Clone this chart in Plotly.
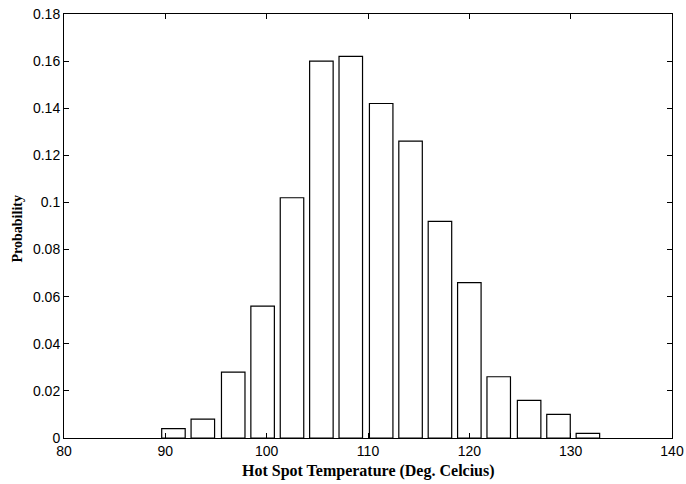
import plotly.graph_objects as go

bin_centers = [90.8, 93.7, 96.7, 99.6, 102.5, 105.4, 108.3, 111.3, 114.2, 117.1, 120.0, 122.9, 125.9, 128.8, 131.7]
probabilities = [0.004, 0.008, 0.028, 0.056, 0.102, 0.160, 0.162, 0.142, 0.126, 0.092, 0.066, 0.026, 0.016, 0.010, 0.002]
x_ticks = [80, 90, 100, 110, 120, 130, 140]
y_ticks = [0, 0.02, 0.04, 0.06, 0.08, 0.1, 0.12, 0.14, 0.16, 0.18]
y_tick_labels = ["0", "0.02", "0.04", "0.06", "0.08", "0.1", "0.12", "0.14", "0.16", "0.18"]
x_title = "Hot Spot Temperature (Deg. Celcius)"
y_title = "Probability"

bar_width = 0.8 * (bin_centers[1] - bin_centers[0])

fig = go.Figure(go.Bar(
    x=bin_centers, y=probabilities, width=bar_width,
    marker=dict(color="white", line=dict(color="black", width=1.2)),
    hoverinfo="skip",
))

axis_common = dict(
    showgrid=False, zeroline=False, showline=True, linecolor="black", linewidth=1,
    mirror="ticks", ticks="inside", ticklen=5, tickcolor="black", automargin=False,
    tickfont=dict(family="Liberation Sans, Arial, sans-serif", size=14, color="black"),
)

serif = "Liberation Serif, Times New Roman, serif"

fig.update_layout(
    width=686, height=484,
    margin=dict(l=64, r=14, t=14, b=46),
    paper_bgcolor="white", plot_bgcolor="white",
    showlegend=False,
    bargap=0,
    xaxis=dict(range=[80, 140], tickvals=x_ticks, ticktext=[str(v) for v in x_ticks], **axis_common),
    yaxis=dict(range=[0, 0.18], tickvals=y_ticks, ticktext=y_tick_labels, **axis_common),
    annotations=[
        dict(text="<b>" + x_title + "</b>", xref="paper", yref="paper", x=0.5, y=0,
             xanchor="center", yanchor="middle", yshift=-33, showarrow=False,
             font=dict(family=serif, size=16, color="black")),
        dict(text="<b>" + y_title + "</b>", xref="paper", yref="paper", x=0, y=0.493,
             xanchor="center", yanchor="middle", xshift=-46.5, textangle=-90, showarrow=False,
             font=dict(family=serif, size=14, color="black")),
    ],
)

fig.write_html(
    "out.html",
    config={"displayModeBar": False, "staticPlot": True},
    post_script="document.body.style.margin='0';document.body.style.padding='0';document.body.style.overflow='hidden';",
)
